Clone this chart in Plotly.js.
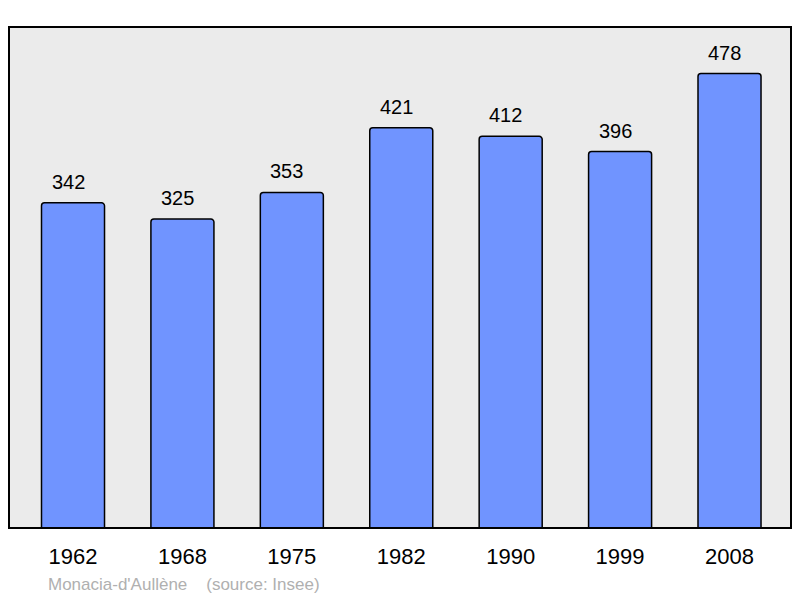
<!DOCTYPE html>
<html>
<head>
<meta charset="utf-8">
<script src="https://cdn.plot.ly/plotly-3.0.1.min.js"></script>
<style>html,body{margin:0;padding:0;background:#fff;}#chart{width:800px;height:598px;}</style>
</head>
<body>
<div id="chart"></div>
<script>
var years = ["1962", "1968", "1975", "1982", "1990", "1999", "2008"];
var population = [342, 325, 353, 421, 412, 396, 478];
var caption = "Monacia-d'Aullène&nbsp;&nbsp;&nbsp;&nbsp;(source: Insee)";

var trace = {
  type: 'bar',
  x: years,
  y: population,
  width: 0.576,
  marker: {color: '#7094ff', line: {color: '#000', width: 1.5}, cornerradius: 3},
  hoverinfo: 'none'
};

var annotations = years.map(function (yr, i) {
  return {
    x: i, y: population[i], xref: 'x', yref: 'y',
    text: String(population[i]), showarrow: false,
    yanchor: 'bottom', yshift: 8, xshift: -5,
    font: {family: 'Liberation Sans, Arial, sans-serif', size: 20, color: '#000'}
  };
});
annotations.push({
  xref: 'paper', yref: 'paper', x: 0.047, y: -0.112,
  xanchor: 'left', yanchor: 'middle', text: caption, showarrow: false,
  font: {family: 'Liberation Sans, Arial, sans-serif', size: 17, color: '#b0b0b0'}
});

var layout = {
  width: 800, height: 598,
  margin: {l: 9, r: 9, t: 27, b: 70, pad: 0},
  paper_bgcolor: '#ffffff',
  plot_bgcolor: '#ebebeb',
  showlegend: false,
  xaxis: {
    type: 'category', range: [-0.585, 6.562],
    showgrid: false, zeroline: false, showline: false, ticks: '',
    ticklabelstandoff: 13,
    tickfont: {family: 'Liberation Sans, Arial, sans-serif', size: 22, color: '#000'},
    fixedrange: true
  },
  yaxis: {
    range: [0, 527], showgrid: false, zeroline: false, showline: false,
    showticklabels: false, ticks: '', fixedrange: true
  },
  shapes: [{
    type: 'rect', xref: 'paper', yref: 'paper', x0: 0, x1: 1, y0: 0, y1: 1,
    line: {color: '#000', width: 2}, fillcolor: 'rgba(0,0,0,0)', layer: 'above'
  }],
  annotations: annotations
};

Plotly.newPlot('chart', [trace], layout, {displayModeBar: false, staticPlot: true});
</script>
</body>
</html>
